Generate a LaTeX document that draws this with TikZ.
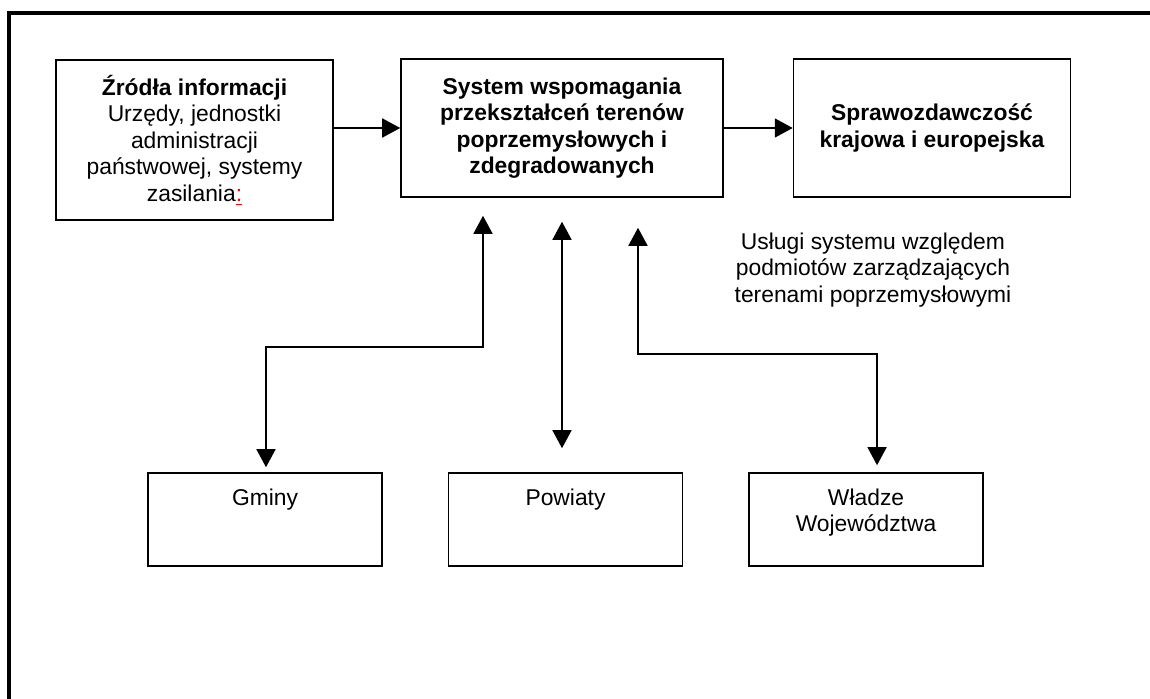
\documentclass[tikz,border=0pt]{standalone}
\usepackage{fontspec}
\setmainfont{Liberation Sans}
\usepackage{tikz}
\usetikzlibrary{arrows.meta,positioning,calc}

\newcommand{\unittext}[1]{\parbox[c][1.86cm][t]{4.5cm}{\centering\rule{0pt}{0.64cm}#1}}

\begin{document}
\begin{tikzpicture}[
    x=0.02cm, y=-0.02cm,
    font=\fontsize{13}{15.1}\selectfont,
    frame/.style={line width=2pt, line cap=butt},
    block/.style={rectangle, draw=black, line width=0.9pt, align=center, minimum width=5.54cm, minimum height=2.76cm, inner sep=2pt},
    unit/.style={rectangle, draw=black, line width=0.9pt, minimum width=4.68cm, minimum height=1.86cm, inner sep=0pt},
    arrow/.style={line width=0.9pt, ->, >={Triangle[length=0.36cm,width=0.38cm]}}
]
\useasboundingbox (0,0) rectangle (1150,699);
\draw[frame] (9,699) |- (1150,13);

% Top row
\node[block, minimum height=3.2cm] (src) at (194.5,140) {\textbf{Źródła informacji}\\Urzędy, jednostki\\administracji\\państwowej, systemy\\zasilania\textcolor{red}{\underline{:}}};
\node[block, minimum width=6.44cm, font=\fontsize{13}{15.1}\selectfont\bfseries] (sys) at (562,128) {System wspomagania\\przekształceń terenów\\poprzemysłowych i\\zdegradowanych};
\node[block, right=1.38cm of sys, font=\fontsize{13}{15.1}\selectfont\bfseries] (rep) {Sprawozdawczość\\krajowa i europejska};
\node[align=center] (services) at (873,270) {Usługi systemu względem\\podmiotów zarządzających\\terenami poprzemysłowymi};

% Bottom row
\node[unit] (gminy) at (265,519.5) {\unittext{Gminy}};
\node[unit, right=1.3cm of gminy] (powiaty) {\unittext{Powiaty}};
\node[unit, right=1.3cm of powiaty] (wladze) {\unittext{Władze\\Województwa}};

% Arrows
\draw[arrow] (src.east |- sys.west) -- (sys.west);
\draw[arrow] (sys.east) -- (rep.west);
\coordinate (a1) at ($(sys.south)+(-79,18)$);
\coordinate (g1) at ($(gminy.north)+(1,-5)$);
\draw[arrow, <->] (a1) -- ++(0,131) -| (g1);
\coordinate (m1) at ($(sys.south)+(0,24)$);
\coordinate (p1) at ($(powiaty.north)+(0,-24)$);
\draw[arrow, <->] (m1) -- (m1 |- p1);
\coordinate (r1) at ($(sys.south)+(76,30)$);
\coordinate (w1) at ($(wladze.north)+(11,-7)$);
\draw[arrow, <->] (r1) -- ++(0,126) -| (w1);
\end{tikzpicture}
\end{document}
